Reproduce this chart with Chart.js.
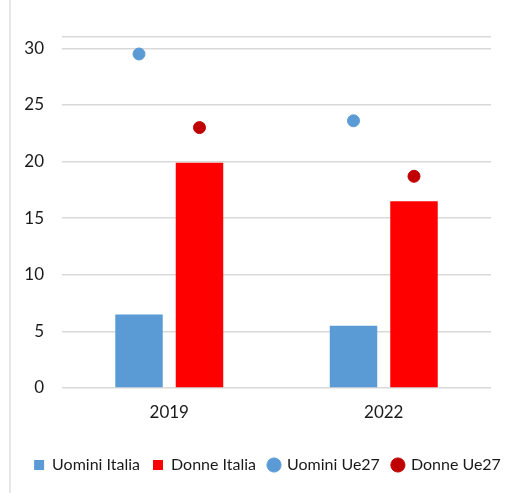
<!DOCTYPE html>
<html>
  <head>
    <meta charset="utf-8">
    <title></title>
    <style>
      html, body { margin: 0; padding: 0; background: #fff; }
      #wrap { position: relative; width: 517px; height: 493px; }
      #frame { position: absolute; left: 9px; top: 0; width: 2px; height: 493px; background: #e6e6e6; }
    </style>
  </head>
  <body>
    <div id="wrap">
      <div id="frame"></div>
      <canvas id="myChart" width="517" height="493"></canvas>
    </div>
  </body>
  <script src="https://cdn.jsdelivr.net/npm/chart.js@4/dist/chart.umd.min.js"></script>
  <script type="text/javascript">

  // data
  const years = ['2019', '2022'];
  const uominiItalia = [6.5, 5.5];
  const donneItalia = [19.9, 16.5];
  const uominiUe27 = [29.5, 23.6];
  const donneUe27 = [23.0, 18.7];
  const yTicks = [0, 5, 10, 15, 20, 25, 30];

  const catPct = 0.564;
  const barPct = 0.785;
  // dots sit over the bar centres: +/- a quarter of the group width
  const shift = catPct / 4;

  // one linear x axis for everything, year i sits at x = i
  function atYear(values, side) {
    return values.map((v, i) => ({ x: i + side * shift, y: v }));
  }

  const font = { family: 'Lato', size: 17 };
  const legendFont = { family: 'Lato', size: 16 };
  const ink = '#1a1a1a';

  var ctx = document.getElementById('myChart').getContext('2d');
  var chart = new Chart(ctx, {
    type: 'bar',
    data: {
      datasets: [{
        label: 'Uomini Italia',
        data: atYear(uominiItalia, 0),
        backgroundColor: '#5B9BD5',
        pointStyle: 'rect'
      }, {
        label: 'Donne Italia',
        data: atYear(donneItalia, 0),
        backgroundColor: '#FF0000',
        pointStyle: 'rect'
      }, {
        type: 'line',
        label: 'Uomini Ue27',
        data: atYear(uominiUe27, -1),
        showLine: false,
        pointStyle: 'circle',
        pointRadius: 6,
        backgroundColor: '#5B9BD5',
        borderColor: '#5B9BD5'
      }, {
        type: 'line',
        label: 'Donne Ue27',
        data: atYear(donneUe27, 1),
        showLine: false,
        pointStyle: 'circle',
        pointRadius: 6,
        backgroundColor: '#C00000',
        borderColor: '#C00000'
      }]
    },
    options: {
      responsive: false,
      animation: false,
      // left padding only nudges the legend to the right like the original
      layout: { padding: { top: 37, right: 0, bottom: 10, left: 18 } },
      datasets: {
        bar: { categoryPercentage: catPct, barPercentage: barPct }
      },
      plugins: {
        tooltip: { enabled: false },
        legend: {
          position: 'bottom',
          labels: {
            usePointStyle: true,
            boxWidth: 10,
            boxHeight: 10,
            padding: 13,
            color: ink,
            font: legendFont
          }
        }
      },
      scales: {
        x: {
          type: 'linear',
          min: -0.5,
          max: 1.5,
          offset: false,
          grid: { display: false, drawTicks: false },
          border: { display: false },
          afterBuildTicks: (s) => {
            s.ticks = years.map((y, i) => ({ value: i }));
          },
          ticks: {
            color: ink,
            font: font,
            padding: 14,
            callback: (v) => years[v]
          },
          afterFit: (s) => { s.height = 56; }
        },
        y: {
          min: 0,
          max: 31,
          grid: { color: '#d9d9d9', drawTicks: false, lineWidth: 1.5 },
          border: { display: false },
          afterBuildTicks: (s) => {
            s.ticks = yTicks.map(v => ({ value: v })).concat([{ value: 31 }]);
          },
          ticks: {
            color: ink,
            font: font,
            padding: 18,
            callback: (v) => (yTicks.includes(v) ? v : '')
          },
          afterFit: (s) => { s.width = 44; }
        },
        // empty right-hand spacer so the plot ends where the original does
        yRight: {
          type: 'linear',
          position: 'right',
          grid: { display: false, drawTicks: false },
          border: { display: false },
          ticks: { display: false },
          afterFit: (s) => { s.width = 26; }
        }
      }
    }
  });
  </script>
</html>
